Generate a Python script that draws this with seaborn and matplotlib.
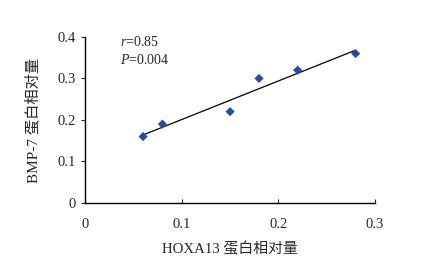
import matplotlib
matplotlib.use("Agg")
import matplotlib.pyplot as plt
import seaborn as sns
import numpy as np
import pandas as pd

hoxa13 = [0.06, 0.08, 0.15, 0.18, 0.22, 0.28]
bmp7 = [0.16, 0.19, 0.22, 0.30, 0.32, 0.36]
xticks = [0, 0.1, 0.2, 0.3]
yticks = [0, 0.1, 0.2, 0.3, 0.4]
xlabels = ["0", "0.1", "0.2", "0.3"]
ylabels = ["0", "0.1", "0.2", "0.3", "0.4"]

sns.set_theme(style="white")
plt.rcParams['font.family'] = ['Liberation Serif', 'Noto Sans CJK SC']
plt.rcParams['mathtext.fontset'] = 'custom'
plt.rcParams['mathtext.it'] = 'Liberation Serif:italic'
plt.rcParams['mathtext.rm'] = 'Liberation Serif'

df = pd.DataFrame({"x": hoxa13, "y": bmp7})

fig = plt.figure(figsize=(4.3, 2.72), dpi=100)
ax = fig.add_axes([0.198, 0.254, 0.674, 0.61])

sns.regplot(data=df, x="x", y="y", ax=ax, ci=None, truncate=True,
            marker="D",
            scatter_kws=dict(s=22, color="#2a4b9e", edgecolor="none", alpha=1, zorder=3),
            line_kws=dict(color="black", lw=0.9, zorder=2))

ax.set_xlim(0, 0.3)
ax.set_ylim(0, 0.4)
ax.set_xticks(xticks)
ax.set_xticklabels(xlabels)
ax.set_yticks(yticks)
ax.set_yticklabels(ylabels)
for s in ["top", "right"]:
    ax.spines[s].set_visible(False)
for s in ["left", "bottom"]:
    ax.spines[s].set_color("black")
    ax.spines[s].set_linewidth(1.0)
ax.tick_params(axis="y", direction="out", length=3, width=0.8, labelsize=10.5, pad=4, left=True)
ax.tick_params(axis="x", direction="in", length=3, width=0.8, labelsize=10.5, pad=11, bottom=True)
ax.set_xlabel("HOXA13 蛋白相对量", fontsize=10.7, labelpad=8)
ax.set_ylabel("BMP-7 蛋白相对量", fontsize=11, labelpad=12)

ax.text(0.036, 0.388, r"$\it{r}$=0.85", fontsize=10, va="center", ha="left")
ax.text(0.036, 0.345, r"$\it{P}$=0.004", fontsize=10, va="center", ha="left")

fig.savefig("out.png", dpi=100)
